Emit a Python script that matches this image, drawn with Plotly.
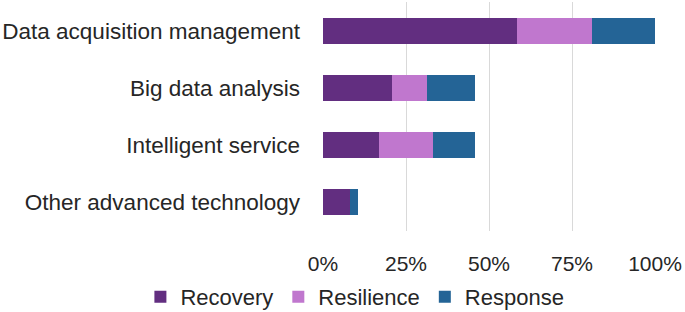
import plotly.graph_objects as go

categories = ["Data acquisition management", "Big data analysis", "Intelligent service", "Other advanced technology"]
recovery = [58.4, 20.8, 16.8, 8.2]
resilience = [22.7, 10.4, 16.3, 0.0]
response = [18.9, 14.5, 12.6, 2.3]
series_names = ["Recovery", "Resilience", "Response"]
colors = ["#622e80", "#c077ce", "#246496"]
tick_vals = [0, 25, 50, 75, 100]
tick_text = ["0%", "25%", "50%", "75%", "100%"]

fig = go.Figure()
for name, vals, c in zip(series_names, [recovery, resilience, response], colors):
    fig.add_trace(go.Bar(y=categories, x=vals, name=name, orientation="h",
                         marker=dict(color=c, line=dict(width=0))))

fig.update_layout(
    barmode="stack",
    bargap=0.55,
    width=685, height=312,
    margin=dict(l=323, r=30, t=2, b=81, autoexpand=False),
    paper_bgcolor="white", plot_bgcolor="white",
    font=dict(family="Liberation Sans, Arial", size=22, color="#262626"),
    showlegend=True,
    legend=dict(orientation="h", x=-0.55, xanchor="left", y=-0.288, yanchor="middle",
                font=dict(size=22), traceorder="normal", itemsizing="constant"),
    xaxis=dict(range=[0, 100], tickvals=tick_vals, ticktext=tick_text, showgrid=True,
               gridcolor="#d9d9d9", gridwidth=1, zeroline=False, showline=False,
               tickfont=dict(size=21), ticklabelstandoff=18, fixedrange=True,
               automargin=False),
    yaxis=dict(autorange="reversed", showgrid=False, showline=False, zeroline=False,
               ticklabelstandoff=22, tickfont=dict(size=22.5), automargin=False,
               fixedrange=True),
)

fig.write_html("out.html", config={"displayModeBar": False},
               post_script="document.body.style.margin='0';document.body.style.overflow='hidden';")
